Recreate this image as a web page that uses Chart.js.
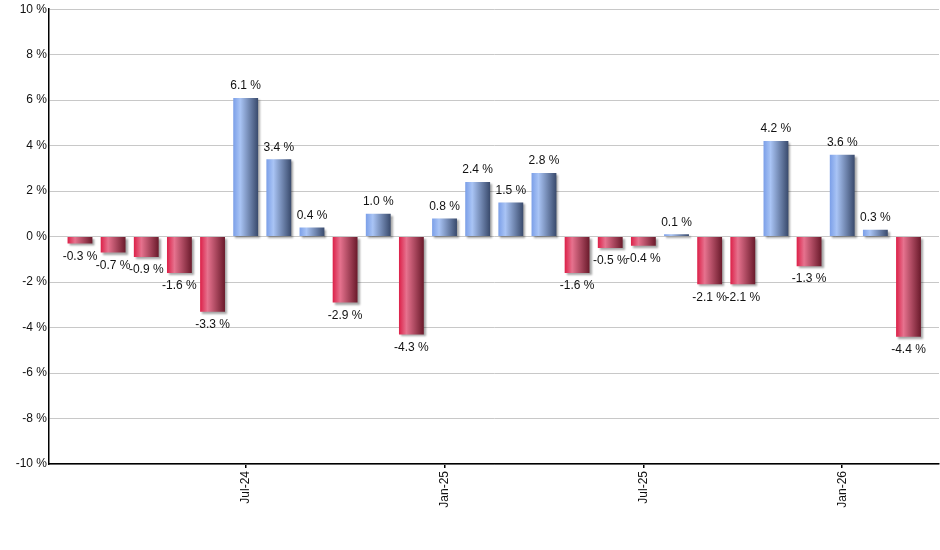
<!DOCTYPE html>
<html>
<head>
<meta charset="utf-8">
<script src="https://cdn.jsdelivr.net/npm/chart.js@4/dist/chart.umd.min.js"></script>
<style>
html,body{margin:0;padding:0;background:#fff;}
#wrap{width:940px;height:550px;position:relative;}
</style>
</head>
<body>
<div id="wrap"><canvas id="c" width="940" height="550"></canvas></div>
<script>
const months = ["Feb-24","Mar-24","Apr-24","May-24","Jun-24","Jul-24","Aug-24","Sep-24","Oct-24","Nov-24","Dec-24",
  "Jan-25","Feb-25","Mar-25","Apr-25","May-25","Jun-25","Jul-25","Aug-25","Sep-25","Oct-25","Nov-25","Dec-25",
  "Jan-26","Feb-26","Mar-26"];
const returns = [-0.3,-0.7,-0.9,-1.6,-3.3,6.1,3.4,0.4,-2.9,1.0,-4.3,
  0.8,2.4,1.5,2.8,-1.6,-0.5,-0.4,0.1,-2.1,-2.1,4.2,-1.3,
  3.6,0.3,-4.4];
const shownTicks = ["Jul-24","Jan-25","Jul-25","Jan-26"];
const yTicks = [-10,-8,-6,-4,-2,0,2,4,6,8,10];

const FONT = "'Liberation Sans', Arial, sans-serif";
const BAR_FRACTION = 0.75;

function barGradient(c){
  const chart = c.chart;
  const xs = chart.scales && chart.scales.x;
  const v = c.raw ? c.raw.y : 0;
  const pos = v >= 0;
  if(!xs || c.type !== 'data' || !chart.chartArea) return pos ? '#7b9fe6' : '#dc2449';
  const cx = xs.getPixelForValue(c.dataIndex);
  const w = Math.abs(xs.getPixelForValue(1) - xs.getPixelForValue(0)) * BAR_FRACTION;
  const g = chart.ctx.createLinearGradient(cx - w/2, 0, cx + w/2, 0);
  if(pos){
    g.addColorStop(0, '#7b9fe8');
    g.addColorStop(0.28, '#a9c4f5');
    g.addColorStop(1, '#394a6c');
  } else {
    g.addColorStop(0, '#dc2048');
    g.addColorStop(0.3, '#e6728e');
    g.addColorStop(1, '#6a1a2b');
  }
  return g;
}

const shadowPlugin = {
  id:'barShadow',
  beforeDatasetDraw(chart){
    const ctx = chart.ctx;
    ctx.save();
    ctx.shadowColor = 'rgba(0,0,0,0.35)';
    ctx.shadowOffsetX = 2;
    ctx.shadowOffsetY = 2;
    ctx.shadowBlur = 2;
  },
  afterDatasetDraw(chart){
    chart.ctx.restore();
  }
};

const labelPlugin = {
  id:'valueLabels',
  afterDatasetsDraw(chart){
    const ctx = chart.ctx;
    const meta = chart.getDatasetMeta(0);
    ctx.save();
    ctx.font = '12px ' + FONT;
    ctx.fillStyle = '#111';
    ctx.textAlign = 'center';
    ctx.textBaseline = 'middle';
    meta.data.forEach((el, i) => {
      const v = returns[i];
      const txt = v.toFixed(1) + ' %';
      const y = v >= 0 ? el.y - 12 : el.y + 13;
      ctx.fillText(txt, el.x, y);
    });
    ctx.restore();
  }
};

new Chart(document.getElementById('c'), {
  type:'bar',
  data:{
    datasets:[{
      data: returns.map((v,i)=>({x:i, y:v})),
      backgroundColor: barGradient,
      borderWidth:0,
      categoryPercentage:1,
      barPercentage:BAR_FRACTION
    }]
  },
  options:{
    responsive:false,
    animation:false,
    events:[],
    layout:{padding:{top:9,right:1,left:0,bottom:0}},
    plugins:{legend:{display:false},tooltip:{enabled:false}},
    scales:{
      x:{
        type:'linear',
        offset:false,
        min:-0.935,
        max:25.92,
        afterBuildTicks(scale){
          scale.ticks = shownTicks.map(l => ({value: months.indexOf(l)}));
        },
        afterFit(scale){ scale.height = 86; },
        ticks:{
          autoSkip:false,
          minRotation:90,
          maxRotation:90,
          padding:3,
          color:'#111',
          font:{family:FONT, size:12},
          callback:(v)=>months[v]
        },
        grid:{offset:false, drawOnChartArea:false, drawTicks:true, tickLength:4, color:'#000', lineWidth:1.5},
        border:{display:true, color:'#000', width:1.5}
      },
      y:{
        min:-10,
        max:10,
        afterBuildTicks(scale){
          scale.ticks = yTicks.map(v => ({value:v}));
        },
        afterFit(scale){ scale.width = 49; },
        ticks:{
          padding:2,
          color:'#111',
          font:{family:FONT, size:12},
          callback:(v)=>v + ' %'
        },
        grid:{color:'#c8c8c8', lineWidth:1, drawTicks:false},
        border:{display:true, color:'#000', width:1.5}
      }
    }
  },
  plugins:[shadowPlugin, labelPlugin]
});
</script>
</body>
</html>
